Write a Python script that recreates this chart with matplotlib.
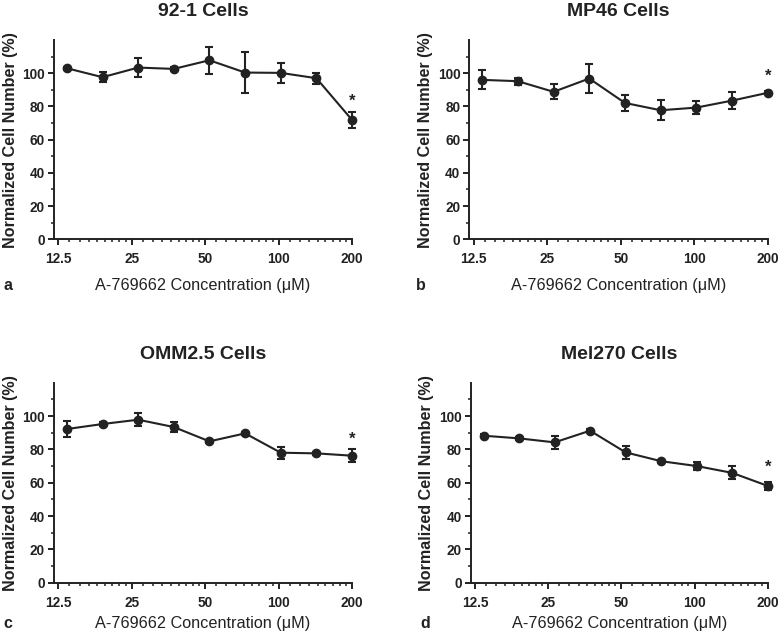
import numpy as np
import matplotlib
matplotlib.use("Agg")
import matplotlib.pyplot as plt
from matplotlib.ticker import NullFormatter

plt.rcParams['font.family'] = ['Liberation Sans', 'DejaVu Sans']

# Concentrations (µM)
conc = [13.55, 18.97, 26.56, 37.18, 52.06, 72.89, 102.04, 142.86, 200.0]

titles = ["92-1 Cells", "MP46 Cells", "OMM2.5 Cells", "Mel270 Cells"]
letters = ["a", "b", "c", "d"]

mean_921 = [103.0, 97.6, 103.4, 102.6, 107.8, 100.4, 100.2, 97.0, 71.9]
err_921 = [1.0, 3.0, 5.7, 1.0, 8.0, 12.5, 5.8, 3.3, 5.0]

mean_mp46 = [96.0, 95.2, 88.8, 96.8, 82.1, 77.7, 79.3, 83.5, 88.2]
err_mp46 = [5.7, 2.0, 4.5, 8.5, 4.6, 5.9, 3.8, 5.0, 1.0]

mean_omm = [92.2, 95.2, 97.8, 93.4, 84.8, 89.6, 78.0, 77.6, 76.2]
err_omm = [5.0, 1.0, 4.0, 2.8, 1.0, 1.0, 3.7, 1.0, 3.8]

mean_mel = [88.2, 86.6, 84.2, 91.2, 78.2, 72.9, 70.0, 65.9, 58.1]
err_mel = [1.0, 1.0, 3.8, 1.0, 3.9, 1.0, 2.3, 3.9, 2.6]

star_y = [83, 98, 86, 69]

xticks = [12.5, 25, 50, 100, 200]
xticklabels = ["12.5", "25", "50", "100", "200"]
yticks = [0, 20, 40, 60, 80, 100]

means = [mean_921, mean_mp46, mean_omm, mean_mel]
errs = [err_921, err_mp46, err_omm, err_mel]

W, H = 781, 639
fig = plt.figure(figsize=(W / 100, H / 100), dpi=100)

C = '#222222'
# axes boxes in pixels: left, right, top, bottom
boxes = [(54, 352, 40, 239.3), (469.3, 767.7, 40, 239.3),
         (54, 352, 382.7, 582.7), (470.7, 767.7, 382.7, 582.7)]
letter_pos = [(3, 285), (416, 285), (3, 623), (420, 623)]
xlabel_top = [-0.195, -0.195, -0.165, -0.165]

minor = []
for lo in [12.5, 25, 50, 100]:
    minor += list(lo + np.arange(1, 9) * lo / 9.0)

for i in range(4):
    l, r, t, b = boxes[i]
    ax = fig.add_axes([l / W, 1 - b / H, (r - l) / W, (b - t) / H])
    ax.errorbar(conc, means[i], yerr=errs[i], color=C, marker='o', ms=6,
                lw=1.5, elinewidth=1.5, capsize=2.6, capthick=1.5, zorder=3,
                clip_on=False)
    ax.set_xscale('log', base=2)
    ax.set_xlim(12.0, 200)
    ax.set_ylim(0, 120)
    ax.set_xticks(xticks)
    ax.set_xticklabels(xticklabels)
    ax.set_xticks(minor, minor=True)
    ax.xaxis.set_minor_formatter(NullFormatter())
    ax.set_yticks(yticks)
    ax.set_yticks([10, 30, 50, 70, 90, 110], minor=True)
    for s in ['top', 'right']:
        ax.spines[s].set_visible(False)
    for s in ['left', 'bottom']:
        ax.spines[s].set_linewidth(1.4)
        ax.spines[s].set_color(C)
    ax.tick_params(which='major', length=4.5, width=1.4, color=C,
                   labelsize=9.8, labelcolor=C)
    ax.tick_params(axis='x', which='major', pad=5)
    ax.tick_params(axis='y', which='major', pad=2)
    ax.tick_params(which='minor', length=2.5, width=1.1, color=C)
    for lab in ax.get_xticklabels() + ax.get_yticklabels():
        lab.set_fontweight('bold')
    ax.text(conc[-1], star_y[i], '*', ha='center', va='center',
            fontsize=12, color=C, fontweight='bold')
    ax.set_title(titles[i], fontsize=14, fontweight='bold', color=C, pad=17)
    ax.set_ylabel("Normalized Cell Number (%)", fontsize=11.6,
                  fontweight='bold', color=C)
    ax.yaxis.set_label_coords(-0.122, 0.5)
    ax.set_xlabel("A-769662 Concentration (\u03bcM)", fontsize=11.7, color=C)
    ax.xaxis.set_label_coords(0.5, xlabel_top[i])
    lx, ly = letter_pos[i]
    fig.text(lx / W, 1 - ly / H, letters[i], fontsize=11.5, fontweight='bold',
             color=C, va='center', ha='left')

fig.savefig('out.png', dpi=100)
